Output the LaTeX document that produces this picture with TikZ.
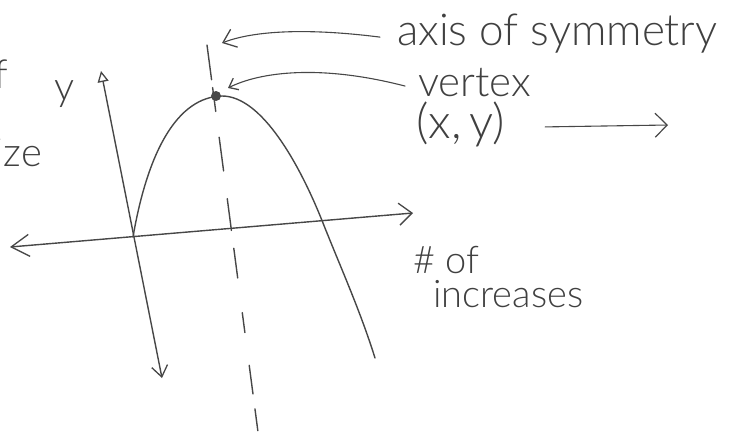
\documentclass[tikz,border=0pt]{standalone}
\usepackage{fontspec}
\setmainfont{Lato Light}
\usetikzlibrary{arrows.meta}
\begin{document}
\begin{tikzpicture}[x=1pt,y=-1pt,
  pen/.style={draw=black!72, line width=1.4pt, line cap=round, line join=round},
  barb/.style={-{Straight Barb[length=#1pt,width=1.6*#1pt,line width=1.3pt]}},
  hand/.style={text=black!75, inner sep=0pt, font=\fontsize{40}{44}\selectfont}]
\useasboundingbox (0,0) rectangle (733,437);
\clip (0,0) rectangle (733,437);
% axes
\coordinate (ytop) at (101,71);
\coordinate (ybot) at (162,378);
\coordinate (xleft) at (10,247);
\coordinate (xright) at (413,213);
\draw[pen,{Triangle[open,length=11pt,width=11pt,line width=1.3pt]}-{Straight Barb[length=11pt,width=16pt,line width=1.3pt]}] (ytop) -- (ybot);
\draw[pen,{Straight Barb[length=18pt,width=22pt,line width=1.3pt]}-{Straight Barb[length=13pt,width=22pt,line width=1.3pt]}] (xleft) -- (xright);
% axis of symmetry
\coordinate (s1) at (207,45);
\coordinate (s2) at (258,432);
\draw[pen, dash pattern=on 35pt off 8pt on 24pt off 26pt on 34pt off 28pt on 32pt off 18pt on 30pt off 35pt on 20pt off 33pt on 29pt off 15pt on 22pt off 100pt] (s1) -- (s2);
% parabola
\coordinate (rootL) at (133,237);
\coordinate (top) at (222,96);
\coordinate (rootR) at (323,223);
\coordinate (pend) at (375,358);
\draw[pen] (rootL) .. controls (148,150) and (178,97) .. (top)
  .. controls (262,96) and (300,165) .. (rootR)
  .. controls (340,266) and (360,310) .. (pend);
\node[circle, fill=black!72, minimum size=10pt, inner sep=0pt] (vtx) at (216,96) {};
% labels
\node[hand, anchor=base west, font=\fontsize{44}{48}\selectfont] (axis) at (397,45) {axis of symmetry};
\node[hand, anchor=base west, font=\fontsize{42}{46}\selectfont] (vert) at (418,96) {vertex};
\node[hand, anchor=base west, font=\fontsize{48}{52}\selectfont] (xy) at (416,138) {(x,\,y)};
\node[hand, anchor=base west, font=\fontsize{38}{42}\selectfont] (numof) at (413,273) {\# of};
\node[hand, anchor=base west, font=\fontsize{38}{42}\selectfont] (incr) at (433,307) {increases};
\node[hand] (ylab) at (65,94) {y};
\node[hand, anchor=base east] (frag1) at (8,88) {of};
\node[hand, anchor=base east] (frag2) at (42,166) {size};
% annotation arrows
\coordinate (axtip) at (222,43);
\coordinate (vtip) at (228,88);
\coordinate (xytip) at (668,125);
\draw[pen, line width=1.1pt, barb=12] ([xshift=-17pt,yshift=-4pt]axis.west) .. controls (300,27) and (250,32) .. (axtip);
\draw[pen, line width=1.1pt, barb=8] ([xshift=-13pt,yshift=-4pt]vert.west) .. controls (320,64) and (260,72) .. (vtip);
\draw[pen, line width=1.1pt, -{Straight Barb[length=12pt,width=24pt,line width=1.2pt]}] ([xshift=40pt,yshift=-3pt]xy.east) -- (xytip);
\end{tikzpicture}
\end{document}
